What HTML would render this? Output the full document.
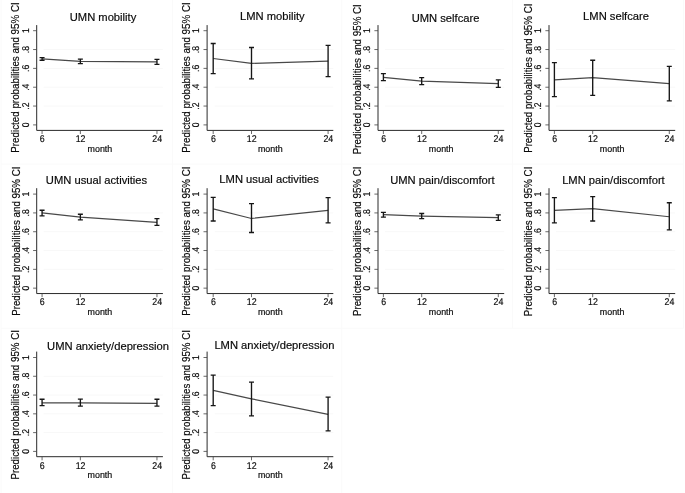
<!DOCTYPE html>
<html><head><meta charset="utf-8"><title>Predicted probabilities</title>
<style>
html,body{margin:0;padding:0;background:#fff;}
body{width:685px;height:493px;overflow:hidden;}
svg{display:block;will-change:transform;opacity:0.999;}
text{font-family:"Liberation Sans",sans-serif;fill:#0a0a0a;stroke:#0a0a0a;stroke-width:0.18;}
.t{font-size:11.2px;}
.k{font-size:8.9px;}
.kd{font-size:9.8px;text-rendering:geometricPrecision;}
.yl{font-size:10.8px;}
.ax{stroke:#2a2a2a;stroke-width:1;fill:none;}
.tk{stroke:#444;stroke-width:0.8;fill:none;}
.g{stroke:#f8f8f8;stroke-width:1;}
.ln{stroke:#484848;stroke-width:1.2;fill:none;}
.eb{stroke:#161616;stroke-width:1.35;fill:none;}
.sep{stroke:#fafafa;stroke-width:1;fill:none;}
</style></head><body>
<svg width="685" height="493" viewBox="0 0 685 493">
<rect width="685" height="493" fill="#ffffff"/>
<path class="sep" d="M1.0 0V493M172.5 0V493M341.8 0V493M512.4 0V328.2M683.6 0V328.2M1.0 164.0H683.6M1.0 328.2H683.6"/>
<g>
<line class="g" x1="43.57" x2="162.90" y1="106.06" y2="106.06"/>
<line class="g" x1="43.57" x2="162.90" y1="87.22" y2="87.22"/>
<line class="g" x1="43.57" x2="162.90" y1="68.38" y2="68.38"/>
<line class="g" x1="43.57" x2="162.90" y1="49.54" y2="49.54"/>
<path class="ax" d="M36.70 25.10V130.40H162.90"/>
<line class="tk" x1="33.10" x2="36.70" y1="124.90" y2="124.90"/>
<text class="kd" text-anchor="middle" transform="translate(28.80,124.90) rotate(-90) scale(0.88,1)">0</text>
<line class="tk" x1="33.10" x2="36.70" y1="106.06" y2="106.06"/>
<text class="kd" text-anchor="middle" transform="translate(28.80,106.06) rotate(-90) scale(0.88,1)">.2</text>
<line class="tk" x1="33.10" x2="36.70" y1="87.22" y2="87.22"/>
<text class="kd" text-anchor="middle" transform="translate(28.80,87.22) rotate(-90) scale(0.88,1)">.4</text>
<line class="tk" x1="33.10" x2="36.70" y1="68.38" y2="68.38"/>
<text class="kd" text-anchor="middle" transform="translate(28.80,68.38) rotate(-90) scale(0.88,1)">.6</text>
<line class="tk" x1="33.10" x2="36.70" y1="49.54" y2="49.54"/>
<text class="kd" text-anchor="middle" transform="translate(28.80,49.54) rotate(-90) scale(0.88,1)">.8</text>
<line class="tk" x1="33.10" x2="36.70" y1="30.70" y2="30.70"/>
<text class="kd" text-anchor="middle" transform="translate(28.80,30.70) rotate(-90) scale(0.88,1)">1</text>
<line class="tk" x1="42.07" x2="42.07" y1="130.40" y2="134.00"/>
<text class="kd" text-anchor="middle" transform="translate(42.27,142.20) scale(0.9,1)">6</text>
<line class="tk" x1="80.37" x2="80.37" y1="130.40" y2="134.00"/>
<text class="kd" text-anchor="middle" transform="translate(80.57,142.20) scale(0.9,1)">12</text>
<line class="tk" x1="156.96" x2="156.96" y1="130.40" y2="134.00"/>
<text class="kd" text-anchor="middle" transform="translate(157.16,142.20) scale(0.9,1)">24</text>
<text class="k" text-anchor="middle" x="99.90" y="151.60">month</text>
<text class="yl" text-anchor="middle" transform="translate(19.20,77.50) rotate(-90) scale(0.9095,1)">Predicted probabilities and 95% CI</text>
<text class="t" text-anchor="middle" x="103.00" y="20.60">UMN mobility</text>
<polyline class="ln" points="42.07,58.96 80.37,61.31 156.96,61.88"/>
<path class="eb" d="M42.07 57.55V60.28M39.57 57.55H44.57M39.57 60.28H44.57"/>
<path class="eb" d="M80.37 59.05V63.67M77.87 59.05H82.87M77.87 63.67H82.87"/>
<path class="eb" d="M156.96 59.34V64.42M154.46 59.34H159.46M154.46 64.42H159.46"/>
</g>
<g>
<line class="g" x1="214.70" x2="333.30" y1="106.06" y2="106.06"/>
<line class="g" x1="214.70" x2="333.30" y1="87.22" y2="87.22"/>
<line class="g" x1="214.70" x2="333.30" y1="68.38" y2="68.38"/>
<line class="g" x1="214.70" x2="333.30" y1="49.54" y2="49.54"/>
<path class="ax" d="M207.10 25.10V130.40H333.30"/>
<line class="tk" x1="203.50" x2="207.10" y1="124.90" y2="124.90"/>
<text class="kd" text-anchor="middle" transform="translate(199.20,124.90) rotate(-90) scale(0.88,1)">0</text>
<line class="tk" x1="203.50" x2="207.10" y1="106.06" y2="106.06"/>
<text class="kd" text-anchor="middle" transform="translate(199.20,106.06) rotate(-90) scale(0.88,1)">.2</text>
<line class="tk" x1="203.50" x2="207.10" y1="87.22" y2="87.22"/>
<text class="kd" text-anchor="middle" transform="translate(199.20,87.22) rotate(-90) scale(0.88,1)">.4</text>
<line class="tk" x1="203.50" x2="207.10" y1="68.38" y2="68.38"/>
<text class="kd" text-anchor="middle" transform="translate(199.20,68.38) rotate(-90) scale(0.88,1)">.6</text>
<line class="tk" x1="203.50" x2="207.10" y1="49.54" y2="49.54"/>
<text class="kd" text-anchor="middle" transform="translate(199.20,49.54) rotate(-90) scale(0.88,1)">.8</text>
<line class="tk" x1="203.50" x2="207.10" y1="30.70" y2="30.70"/>
<text class="kd" text-anchor="middle" transform="translate(199.20,30.70) rotate(-90) scale(0.88,1)">1</text>
<line class="tk" x1="213.20" x2="213.20" y1="130.40" y2="134.00"/>
<text class="kd" text-anchor="middle" transform="translate(213.40,142.20) scale(0.9,1)">6</text>
<line class="tk" x1="251.50" x2="251.50" y1="130.40" y2="134.00"/>
<text class="kd" text-anchor="middle" transform="translate(251.70,142.20) scale(0.9,1)">12</text>
<line class="tk" x1="328.09" x2="328.09" y1="130.40" y2="134.00"/>
<text class="kd" text-anchor="middle" transform="translate(328.29,142.20) scale(0.9,1)">24</text>
<text class="k" text-anchor="middle" x="270.30" y="151.60">month</text>
<text class="yl" text-anchor="middle" transform="translate(189.90,77.50) rotate(-90) scale(0.9095,1)">Predicted probabilities and 95% CI</text>
<text class="t" text-anchor="middle" x="272.40" y="19.60">LMN mobility</text>
<polyline class="ln" points="213.20,58.49 251.50,63.39 328.09,61.22"/>
<path class="eb" d="M213.20 43.51V73.56M210.70 43.51H215.70M210.70 73.56H215.70"/>
<path class="eb" d="M251.50 47.47V78.93M249.00 47.47H254.00M249.00 78.93H254.00"/>
<path class="eb" d="M328.09 45.40V76.67M325.59 45.40H330.59M325.59 76.67H330.59"/>
</g>
<g>
<line class="g" x1="384.90" x2="504.20" y1="106.06" y2="106.06"/>
<line class="g" x1="384.90" x2="504.20" y1="87.22" y2="87.22"/>
<line class="g" x1="384.90" x2="504.20" y1="68.38" y2="68.38"/>
<line class="g" x1="384.90" x2="504.20" y1="49.54" y2="49.54"/>
<path class="ax" d="M378.00 25.10V130.40H504.20"/>
<line class="tk" x1="374.40" x2="378.00" y1="124.90" y2="124.90"/>
<text class="kd" text-anchor="middle" transform="translate(370.10,124.90) rotate(-90) scale(0.88,1)">0</text>
<line class="tk" x1="374.40" x2="378.00" y1="106.06" y2="106.06"/>
<text class="kd" text-anchor="middle" transform="translate(370.10,106.06) rotate(-90) scale(0.88,1)">.2</text>
<line class="tk" x1="374.40" x2="378.00" y1="87.22" y2="87.22"/>
<text class="kd" text-anchor="middle" transform="translate(370.10,87.22) rotate(-90) scale(0.88,1)">.4</text>
<line class="tk" x1="374.40" x2="378.00" y1="68.38" y2="68.38"/>
<text class="kd" text-anchor="middle" transform="translate(370.10,68.38) rotate(-90) scale(0.88,1)">.6</text>
<line class="tk" x1="374.40" x2="378.00" y1="49.54" y2="49.54"/>
<text class="kd" text-anchor="middle" transform="translate(370.10,49.54) rotate(-90) scale(0.88,1)">.8</text>
<line class="tk" x1="374.40" x2="378.00" y1="30.70" y2="30.70"/>
<text class="kd" text-anchor="middle" transform="translate(370.10,30.70) rotate(-90) scale(0.88,1)">1</text>
<line class="tk" x1="383.40" x2="383.40" y1="130.40" y2="134.00"/>
<text class="kd" text-anchor="middle" transform="translate(383.60,142.20) scale(0.9,1)">6</text>
<line class="tk" x1="421.70" x2="421.70" y1="130.40" y2="134.00"/>
<text class="kd" text-anchor="middle" transform="translate(421.90,142.20) scale(0.9,1)">12</text>
<line class="tk" x1="498.29" x2="498.29" y1="130.40" y2="134.00"/>
<text class="kd" text-anchor="middle" transform="translate(498.49,142.20) scale(0.9,1)">24</text>
<text class="k" text-anchor="middle" x="441.20" y="151.60">month</text>
<text class="yl" text-anchor="middle" transform="translate(360.70,79.20) rotate(-90) scale(0.9065,1)">Predicted probabilities and 95% CI</text>
<text class="t" text-anchor="middle" x="445.55" y="22.20">UMN selfcare</text>
<polyline class="ln" points="383.40,77.33 421.70,81.10 498.29,83.64"/>
<path class="eb" d="M383.40 73.56V80.63M380.90 73.56H385.90M380.90 80.63H385.90"/>
<path class="eb" d="M421.70 77.61V84.58M419.20 77.61H424.20M419.20 84.58H424.20"/>
<path class="eb" d="M498.29 79.87V87.31M495.79 79.87H500.79M495.79 87.31H500.79"/>
</g>
<g>
<line class="g" x1="555.90" x2="675.20" y1="106.06" y2="106.06"/>
<line class="g" x1="555.90" x2="675.20" y1="87.22" y2="87.22"/>
<line class="g" x1="555.90" x2="675.20" y1="68.38" y2="68.38"/>
<line class="g" x1="555.90" x2="675.20" y1="49.54" y2="49.54"/>
<path class="ax" d="M549.00 25.10V130.40H675.20"/>
<line class="tk" x1="545.40" x2="549.00" y1="124.90" y2="124.90"/>
<text class="kd" text-anchor="middle" transform="translate(541.10,124.90) rotate(-90) scale(0.88,1)">0</text>
<line class="tk" x1="545.40" x2="549.00" y1="106.06" y2="106.06"/>
<text class="kd" text-anchor="middle" transform="translate(541.10,106.06) rotate(-90) scale(0.88,1)">.2</text>
<line class="tk" x1="545.40" x2="549.00" y1="87.22" y2="87.22"/>
<text class="kd" text-anchor="middle" transform="translate(541.10,87.22) rotate(-90) scale(0.88,1)">.4</text>
<line class="tk" x1="545.40" x2="549.00" y1="68.38" y2="68.38"/>
<text class="kd" text-anchor="middle" transform="translate(541.10,68.38) rotate(-90) scale(0.88,1)">.6</text>
<line class="tk" x1="545.40" x2="549.00" y1="49.54" y2="49.54"/>
<text class="kd" text-anchor="middle" transform="translate(541.10,49.54) rotate(-90) scale(0.88,1)">.8</text>
<line class="tk" x1="545.40" x2="549.00" y1="30.70" y2="30.70"/>
<text class="kd" text-anchor="middle" transform="translate(541.10,30.70) rotate(-90) scale(0.88,1)">1</text>
<line class="tk" x1="554.40" x2="554.40" y1="130.40" y2="134.00"/>
<text class="kd" text-anchor="middle" transform="translate(554.60,142.20) scale(0.9,1)">6</text>
<line class="tk" x1="592.70" x2="592.70" y1="130.40" y2="134.00"/>
<text class="kd" text-anchor="middle" transform="translate(592.90,142.20) scale(0.9,1)">12</text>
<line class="tk" x1="669.29" x2="669.29" y1="130.40" y2="134.00"/>
<text class="kd" text-anchor="middle" transform="translate(669.49,142.20) scale(0.9,1)">24</text>
<text class="k" text-anchor="middle" x="612.20" y="151.60">month</text>
<text class="yl" text-anchor="middle" transform="translate(531.70,78.25) rotate(-90) scale(0.9024,1)">Predicted probabilities and 95% CI</text>
<text class="t" text-anchor="middle" x="616.05" y="20.30">LMN selfcare</text>
<polyline class="ln" points="554.40,79.87 592.70,77.61 669.29,83.64"/>
<path class="eb" d="M554.40 62.63V96.64M551.90 62.63H556.90M551.90 96.64H556.90"/>
<path class="eb" d="M592.70 60.28V95.32M590.20 60.28H595.20M590.20 95.32H595.20"/>
<path class="eb" d="M669.29 66.40V100.88M666.79 66.40H671.79M666.79 100.88H671.79"/>
</g>
<g>
<line class="g" x1="43.57" x2="162.90" y1="269.34" y2="269.34"/>
<line class="g" x1="43.57" x2="162.90" y1="250.53" y2="250.53"/>
<line class="g" x1="43.57" x2="162.90" y1="231.72" y2="231.72"/>
<line class="g" x1="43.57" x2="162.90" y1="212.91" y2="212.91"/>
<path class="ax" d="M36.70 188.20V293.55H162.90"/>
<line class="tk" x1="33.10" x2="36.70" y1="288.15" y2="288.15"/>
<text class="kd" text-anchor="middle" transform="translate(28.80,288.15) rotate(-90) scale(0.88,1)">0</text>
<line class="tk" x1="33.10" x2="36.70" y1="269.34" y2="269.34"/>
<text class="kd" text-anchor="middle" transform="translate(28.80,269.34) rotate(-90) scale(0.88,1)">.2</text>
<line class="tk" x1="33.10" x2="36.70" y1="250.53" y2="250.53"/>
<text class="kd" text-anchor="middle" transform="translate(28.80,250.53) rotate(-90) scale(0.88,1)">.4</text>
<line class="tk" x1="33.10" x2="36.70" y1="231.72" y2="231.72"/>
<text class="kd" text-anchor="middle" transform="translate(28.80,231.72) rotate(-90) scale(0.88,1)">.6</text>
<line class="tk" x1="33.10" x2="36.70" y1="212.91" y2="212.91"/>
<text class="kd" text-anchor="middle" transform="translate(28.80,212.91) rotate(-90) scale(0.88,1)">.8</text>
<line class="tk" x1="33.10" x2="36.70" y1="194.10" y2="194.10"/>
<text class="kd" text-anchor="middle" transform="translate(28.80,194.10) rotate(-90) scale(0.88,1)">1</text>
<line class="tk" x1="42.07" x2="42.07" y1="293.55" y2="297.15"/>
<text class="kd" text-anchor="middle" transform="translate(42.27,305.35) scale(0.9,1)">6</text>
<line class="tk" x1="80.37" x2="80.37" y1="293.55" y2="297.15"/>
<text class="kd" text-anchor="middle" transform="translate(80.57,305.35) scale(0.9,1)">12</text>
<line class="tk" x1="156.96" x2="156.96" y1="293.55" y2="297.15"/>
<text class="kd" text-anchor="middle" transform="translate(157.16,305.35) scale(0.9,1)">24</text>
<text class="k" text-anchor="middle" x="99.90" y="314.75">month</text>
<text class="yl" text-anchor="middle" transform="translate(19.50,241.20) rotate(-90) scale(0.9024,1)">Predicted probabilities and 95% CI</text>
<text class="t" text-anchor="middle" x="96.50" y="184.00">UMN usual activities</text>
<polyline class="ln" points="42.07,212.91 80.37,217.05 156.96,222.31"/>
<path class="eb" d="M42.07 210.28V215.83M39.57 210.28H44.57M39.57 215.83H44.57"/>
<path class="eb" d="M80.37 214.23V219.87M77.87 214.23H82.87M77.87 219.87H82.87"/>
<path class="eb" d="M156.96 218.65V225.42M154.46 218.65H159.46M154.46 225.42H159.46"/>
</g>
<g>
<line class="g" x1="214.70" x2="333.30" y1="269.34" y2="269.34"/>
<line class="g" x1="214.70" x2="333.30" y1="250.53" y2="250.53"/>
<line class="g" x1="214.70" x2="333.30" y1="231.72" y2="231.72"/>
<line class="g" x1="214.70" x2="333.30" y1="212.91" y2="212.91"/>
<path class="ax" d="M207.10 188.20V293.55H333.30"/>
<line class="tk" x1="203.50" x2="207.10" y1="288.15" y2="288.15"/>
<text class="kd" text-anchor="middle" transform="translate(199.20,288.15) rotate(-90) scale(0.88,1)">0</text>
<line class="tk" x1="203.50" x2="207.10" y1="269.34" y2="269.34"/>
<text class="kd" text-anchor="middle" transform="translate(199.20,269.34) rotate(-90) scale(0.88,1)">.2</text>
<line class="tk" x1="203.50" x2="207.10" y1="250.53" y2="250.53"/>
<text class="kd" text-anchor="middle" transform="translate(199.20,250.53) rotate(-90) scale(0.88,1)">.4</text>
<line class="tk" x1="203.50" x2="207.10" y1="231.72" y2="231.72"/>
<text class="kd" text-anchor="middle" transform="translate(199.20,231.72) rotate(-90) scale(0.88,1)">.6</text>
<line class="tk" x1="203.50" x2="207.10" y1="212.91" y2="212.91"/>
<text class="kd" text-anchor="middle" transform="translate(199.20,212.91) rotate(-90) scale(0.88,1)">.8</text>
<line class="tk" x1="203.50" x2="207.10" y1="194.10" y2="194.10"/>
<text class="kd" text-anchor="middle" transform="translate(199.20,194.10) rotate(-90) scale(0.88,1)">1</text>
<line class="tk" x1="213.20" x2="213.20" y1="293.55" y2="297.15"/>
<text class="kd" text-anchor="middle" transform="translate(213.40,305.35) scale(0.9,1)">6</text>
<line class="tk" x1="251.50" x2="251.50" y1="293.55" y2="297.15"/>
<text class="kd" text-anchor="middle" transform="translate(251.70,305.35) scale(0.9,1)">12</text>
<line class="tk" x1="328.09" x2="328.09" y1="293.55" y2="297.15"/>
<text class="kd" text-anchor="middle" transform="translate(328.29,305.35) scale(0.9,1)">24</text>
<text class="k" text-anchor="middle" x="270.30" y="314.75">month</text>
<text class="yl" text-anchor="middle" transform="translate(189.90,241.20) rotate(-90) scale(0.9024,1)">Predicted probabilities and 95% CI</text>
<text class="t" text-anchor="middle" x="269.10" y="182.60">LMN usual activities</text>
<polyline class="ln" points="213.20,208.87 251.50,218.46 328.09,210.28"/>
<path class="eb" d="M213.20 197.39V221.00M210.70 197.39H215.70M210.70 221.00H215.70"/>
<path class="eb" d="M251.50 203.69V232.47M249.00 203.69H254.00M249.00 232.47H254.00"/>
<path class="eb" d="M328.09 197.58V222.88M325.59 197.58H330.59M325.59 222.88H330.59"/>
</g>
<g>
<line class="g" x1="384.90" x2="504.20" y1="269.34" y2="269.34"/>
<line class="g" x1="384.90" x2="504.20" y1="250.53" y2="250.53"/>
<line class="g" x1="384.90" x2="504.20" y1="231.72" y2="231.72"/>
<line class="g" x1="384.90" x2="504.20" y1="212.91" y2="212.91"/>
<path class="ax" d="M378.00 188.20V293.55H504.20"/>
<line class="tk" x1="374.40" x2="378.00" y1="288.15" y2="288.15"/>
<text class="kd" text-anchor="middle" transform="translate(370.10,288.15) rotate(-90) scale(0.88,1)">0</text>
<line class="tk" x1="374.40" x2="378.00" y1="269.34" y2="269.34"/>
<text class="kd" text-anchor="middle" transform="translate(370.10,269.34) rotate(-90) scale(0.88,1)">.2</text>
<line class="tk" x1="374.40" x2="378.00" y1="250.53" y2="250.53"/>
<text class="kd" text-anchor="middle" transform="translate(370.10,250.53) rotate(-90) scale(0.88,1)">.4</text>
<line class="tk" x1="374.40" x2="378.00" y1="231.72" y2="231.72"/>
<text class="kd" text-anchor="middle" transform="translate(370.10,231.72) rotate(-90) scale(0.88,1)">.6</text>
<line class="tk" x1="374.40" x2="378.00" y1="212.91" y2="212.91"/>
<text class="kd" text-anchor="middle" transform="translate(370.10,212.91) rotate(-90) scale(0.88,1)">.8</text>
<line class="tk" x1="374.40" x2="378.00" y1="194.10" y2="194.10"/>
<text class="kd" text-anchor="middle" transform="translate(370.10,194.10) rotate(-90) scale(0.88,1)">1</text>
<line class="tk" x1="383.40" x2="383.40" y1="293.55" y2="297.15"/>
<text class="kd" text-anchor="middle" transform="translate(383.60,305.35) scale(0.9,1)">6</text>
<line class="tk" x1="421.70" x2="421.70" y1="293.55" y2="297.15"/>
<text class="kd" text-anchor="middle" transform="translate(421.90,305.35) scale(0.9,1)">12</text>
<line class="tk" x1="498.29" x2="498.29" y1="293.55" y2="297.15"/>
<text class="kd" text-anchor="middle" transform="translate(498.49,305.35) scale(0.9,1)">24</text>
<text class="k" text-anchor="middle" x="441.20" y="314.75">month</text>
<text class="yl" text-anchor="middle" transform="translate(360.80,241.30) rotate(-90) scale(0.9034,1)">Predicted probabilities and 95% CI</text>
<text class="t" text-anchor="middle" x="442.45" y="184.00">UMN pain/discomfort</text>
<polyline class="ln" points="383.40,214.70 421.70,216.11 498.29,217.71"/>
<path class="eb" d="M383.40 212.35V217.05M380.90 212.35H385.90M380.90 217.05H385.90"/>
<path class="eb" d="M421.70 213.47V218.65M419.20 213.47H424.20M419.20 218.65H424.20"/>
<path class="eb" d="M498.29 214.89V220.34M495.79 214.89H500.79M495.79 220.34H500.79"/>
</g>
<g>
<line class="g" x1="555.90" x2="675.20" y1="269.34" y2="269.34"/>
<line class="g" x1="555.90" x2="675.20" y1="250.53" y2="250.53"/>
<line class="g" x1="555.90" x2="675.20" y1="231.72" y2="231.72"/>
<line class="g" x1="555.90" x2="675.20" y1="212.91" y2="212.91"/>
<path class="ax" d="M549.00 188.20V293.55H675.20"/>
<line class="tk" x1="545.40" x2="549.00" y1="288.15" y2="288.15"/>
<text class="kd" text-anchor="middle" transform="translate(541.10,288.15) rotate(-90) scale(0.88,1)">0</text>
<line class="tk" x1="545.40" x2="549.00" y1="269.34" y2="269.34"/>
<text class="kd" text-anchor="middle" transform="translate(541.10,269.34) rotate(-90) scale(0.88,1)">.2</text>
<line class="tk" x1="545.40" x2="549.00" y1="250.53" y2="250.53"/>
<text class="kd" text-anchor="middle" transform="translate(541.10,250.53) rotate(-90) scale(0.88,1)">.4</text>
<line class="tk" x1="545.40" x2="549.00" y1="231.72" y2="231.72"/>
<text class="kd" text-anchor="middle" transform="translate(541.10,231.72) rotate(-90) scale(0.88,1)">.6</text>
<line class="tk" x1="545.40" x2="549.00" y1="212.91" y2="212.91"/>
<text class="kd" text-anchor="middle" transform="translate(541.10,212.91) rotate(-90) scale(0.88,1)">.8</text>
<line class="tk" x1="545.40" x2="549.00" y1="194.10" y2="194.10"/>
<text class="kd" text-anchor="middle" transform="translate(541.10,194.10) rotate(-90) scale(0.88,1)">1</text>
<line class="tk" x1="554.40" x2="554.40" y1="293.55" y2="297.15"/>
<text class="kd" text-anchor="middle" transform="translate(554.60,305.35) scale(0.9,1)">6</text>
<line class="tk" x1="592.70" x2="592.70" y1="293.55" y2="297.15"/>
<text class="kd" text-anchor="middle" transform="translate(592.90,305.35) scale(0.9,1)">12</text>
<line class="tk" x1="669.29" x2="669.29" y1="293.55" y2="297.15"/>
<text class="kd" text-anchor="middle" transform="translate(669.49,305.35) scale(0.9,1)">24</text>
<text class="k" text-anchor="middle" x="612.20" y="314.75">month</text>
<text class="yl" text-anchor="middle" transform="translate(531.80,241.40) rotate(-90) scale(0.9034,1)">Predicted probabilities and 95% CI</text>
<text class="t" text-anchor="middle" x="613.45" y="183.70">LMN pain/discomfort</text>
<polyline class="ln" points="554.40,210.46 592.70,208.58 669.29,216.77"/>
<path class="eb" d="M554.40 197.58V222.88M551.90 197.58H556.90M551.90 222.88H556.90"/>
<path class="eb" d="M592.70 196.64V221.00M590.20 196.64H595.20M590.20 221.00H595.20"/>
<path class="eb" d="M669.29 202.75V229.93M666.79 202.75H671.79M666.79 229.93H671.79"/>
</g>
<g>
<line class="g" x1="43.57" x2="162.90" y1="432.62" y2="432.62"/>
<line class="g" x1="43.57" x2="162.90" y1="413.84" y2="413.84"/>
<line class="g" x1="43.57" x2="162.90" y1="395.06" y2="395.06"/>
<line class="g" x1="43.57" x2="162.90" y1="376.28" y2="376.28"/>
<path class="ax" d="M36.70 351.60V456.70H162.90"/>
<line class="tk" x1="33.10" x2="36.70" y1="451.40" y2="451.40"/>
<text class="kd" text-anchor="middle" transform="translate(28.80,451.40) rotate(-90) scale(0.88,1)">0</text>
<line class="tk" x1="33.10" x2="36.70" y1="432.62" y2="432.62"/>
<text class="kd" text-anchor="middle" transform="translate(28.80,432.62) rotate(-90) scale(0.88,1)">.2</text>
<line class="tk" x1="33.10" x2="36.70" y1="413.84" y2="413.84"/>
<text class="kd" text-anchor="middle" transform="translate(28.80,413.84) rotate(-90) scale(0.88,1)">.4</text>
<line class="tk" x1="33.10" x2="36.70" y1="395.06" y2="395.06"/>
<text class="kd" text-anchor="middle" transform="translate(28.80,395.06) rotate(-90) scale(0.88,1)">.6</text>
<line class="tk" x1="33.10" x2="36.70" y1="376.28" y2="376.28"/>
<text class="kd" text-anchor="middle" transform="translate(28.80,376.28) rotate(-90) scale(0.88,1)">.8</text>
<line class="tk" x1="33.10" x2="36.70" y1="357.50" y2="357.50"/>
<text class="kd" text-anchor="middle" transform="translate(28.80,357.50) rotate(-90) scale(0.88,1)">1</text>
<line class="tk" x1="42.07" x2="42.07" y1="456.70" y2="460.30"/>
<text class="kd" text-anchor="middle" transform="translate(42.27,468.50) scale(0.9,1)">6</text>
<line class="tk" x1="80.37" x2="80.37" y1="456.70" y2="460.30"/>
<text class="kd" text-anchor="middle" transform="translate(80.57,468.50) scale(0.9,1)">12</text>
<line class="tk" x1="156.96" x2="156.96" y1="456.70" y2="460.30"/>
<text class="kd" text-anchor="middle" transform="translate(157.16,468.50) scale(0.9,1)">24</text>
<text class="k" text-anchor="middle" x="99.90" y="477.90">month</text>
<text class="yl" text-anchor="middle" transform="translate(19.40,404.80) rotate(-90) scale(0.9034,1)">Predicted probabilities and 95% CI</text>
<text class="t" text-anchor="middle" x="108.00" y="349.70">UMN anxiety/depression</text>
<polyline class="ln" points="42.07,402.81 80.37,402.81 156.96,403.28"/>
<path class="eb" d="M42.07 399.29V405.67M39.57 399.29H44.57M39.57 405.67H44.57"/>
<path class="eb" d="M80.37 399.05V406.05M77.87 399.05H82.87M77.87 406.05H82.87"/>
<path class="eb" d="M156.96 399.29V406.05M154.46 399.29H159.46M154.46 406.05H159.46"/>
</g>
<g>
<line class="g" x1="214.70" x2="333.30" y1="432.62" y2="432.62"/>
<line class="g" x1="214.70" x2="333.30" y1="413.84" y2="413.84"/>
<line class="g" x1="214.70" x2="333.30" y1="395.06" y2="395.06"/>
<line class="g" x1="214.70" x2="333.30" y1="376.28" y2="376.28"/>
<path class="ax" d="M207.10 351.60V456.70H333.30"/>
<line class="tk" x1="203.50" x2="207.10" y1="451.40" y2="451.40"/>
<text class="kd" text-anchor="middle" transform="translate(199.20,451.40) rotate(-90) scale(0.88,1)">0</text>
<line class="tk" x1="203.50" x2="207.10" y1="432.62" y2="432.62"/>
<text class="kd" text-anchor="middle" transform="translate(199.20,432.62) rotate(-90) scale(0.88,1)">.2</text>
<line class="tk" x1="203.50" x2="207.10" y1="413.84" y2="413.84"/>
<text class="kd" text-anchor="middle" transform="translate(199.20,413.84) rotate(-90) scale(0.88,1)">.4</text>
<line class="tk" x1="203.50" x2="207.10" y1="395.06" y2="395.06"/>
<text class="kd" text-anchor="middle" transform="translate(199.20,395.06) rotate(-90) scale(0.88,1)">.6</text>
<line class="tk" x1="203.50" x2="207.10" y1="376.28" y2="376.28"/>
<text class="kd" text-anchor="middle" transform="translate(199.20,376.28) rotate(-90) scale(0.88,1)">.8</text>
<line class="tk" x1="203.50" x2="207.10" y1="357.50" y2="357.50"/>
<text class="kd" text-anchor="middle" transform="translate(199.20,357.50) rotate(-90) scale(0.88,1)">1</text>
<line class="tk" x1="213.20" x2="213.20" y1="456.70" y2="460.30"/>
<text class="kd" text-anchor="middle" transform="translate(213.40,468.50) scale(0.9,1)">6</text>
<line class="tk" x1="251.50" x2="251.50" y1="456.70" y2="460.30"/>
<text class="kd" text-anchor="middle" transform="translate(251.70,468.50) scale(0.9,1)">12</text>
<line class="tk" x1="328.09" x2="328.09" y1="456.70" y2="460.30"/>
<text class="kd" text-anchor="middle" transform="translate(328.29,468.50) scale(0.9,1)">24</text>
<text class="k" text-anchor="middle" x="270.30" y="477.90">month</text>
<text class="yl" text-anchor="middle" transform="translate(189.80,404.80) rotate(-90) scale(0.9034,1)">Predicted probabilities and 95% CI</text>
<text class="t" text-anchor="middle" x="274.40" y="348.90">LMN anxiety/depression</text>
<polyline class="ln" points="213.20,390.37 251.50,398.82 328.09,414.31"/>
<path class="eb" d="M213.20 375.11V405.62M210.70 375.11H215.70M210.70 405.62H215.70"/>
<path class="eb" d="M251.50 382.15V415.91M249.00 382.15H254.00M249.00 415.91H254.00"/>
<path class="eb" d="M328.09 397.17V430.93M325.59 397.17H330.59M325.59 430.93H330.59"/>
</g>
</svg></body></html>
